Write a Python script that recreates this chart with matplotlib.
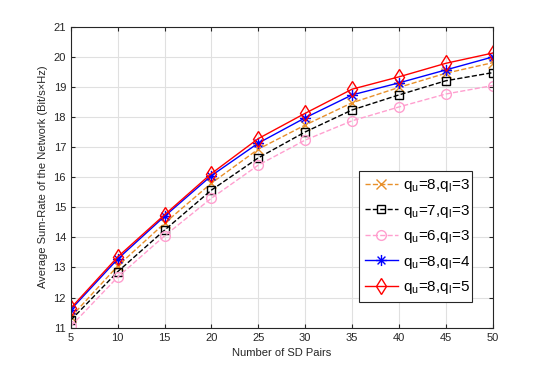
import numpy as np
import matplotlib
matplotlib.use('Agg')
from matplotlib import pyplot as plt
from matplotlib.path import Path

plt.rcParams['font.family'] = ['Liberation Sans', 'DejaVu Sans']
plt.rcParams['mathtext.fontset'] = 'custom'
plt.rcParams['mathtext.rm'] = 'Liberation Sans'

# data
sd_pairs = [5, 10, 15, 20, 25, 30, 35, 40, 45, 50]
q8_3 = [11.35, 13.05, 14.47, 15.80, 16.93, 17.73, 18.47, 18.98, 19.45, 19.80]
q7_3 = [11.25, 12.86, 14.24, 15.57, 16.64, 17.50, 18.23, 18.73, 19.20, 19.47]
q6_3 = [11.05, 12.68, 14.05, 15.30, 16.40, 17.23, 17.87, 18.33, 18.76, 19.04]
q8_4 = [11.60, 13.28, 14.70, 16.05, 17.13, 17.97, 18.73, 19.13, 19.56, 19.99]
q8_5 = [11.65, 13.35, 14.75, 16.12, 17.28, 18.12, 18.92, 19.33, 19.78, 20.12]

labels = [r'q$_\mathrm{u}$=8,q$_\mathrm{l}$=3',
          r'q$_\mathrm{u}$=7,q$_\mathrm{l}$=3',
          r'q$_\mathrm{u}$=6,q$_\mathrm{l}$=3',
          r'q$_\mathrm{u}$=8,q$_\mathrm{l}$=4',
          r'q$_\mathrm{u}$=8,q$_\mathrm{l}$=5']

# matlab style asterisk (plus + cross, stroked)
d = 0.7071
asterisk = Path([(-1, 0), (1, 0), (0, -1), (0, 1), (-d, -d), (d, d), (-d, d), (d, -d)],
                [Path.MOVETO, Path.LINETO] * 4)

fig = plt.figure(figsize=(5.45, 3.69), dpi=100)
ax = fig.add_axes([0.130, 0.112, 0.774, 0.816])

ax.plot(sd_pairs, q8_3, '--x', color='#E8902A', lw=1, ms=7, mew=1, label=labels[0])
ax.plot(sd_pairs, q7_3, '--s', color='black', lw=1, ms=6, mew=1, mfc='none', label=labels[1])
ax.plot(sd_pairs, q6_3, '--o', color='#FF9FCF', lw=1, ms=7, mew=1, mfc='none', label=labels[2])
ax.plot(sd_pairs, q8_4, '-', marker=asterisk, color='blue', lw=1, ms=8, mew=1, label=labels[3])
ax.plot(sd_pairs, q8_5, '-d', color='red', lw=1, ms=8, mew=1, mfc='none', label=labels[4])

ax.set_xlim(5, 50)
ax.set_ylim(11, 21)
ax.set_xticks(np.arange(5, 51, 5))
ax.set_yticks(np.arange(11, 22, 1))
ax.grid(True, color='#E0E0E0', lw=0.8)
ax.set_axisbelow(True)
ax.tick_params(direction='in', top=True, right=True, labelsize=8, colors='#262626', length=3)
for s in ax.spines.values():
    s.set_color('#262626')
    s.set_linewidth(0.8)

ax.set_xlabel('Number of SD Pairs', fontsize=8, color='#262626')
ax.set_ylabel('Average Sum-Rate of the Network (Bit/s\u00d7Hz)', fontsize=8, color='#262626')

leg = ax.legend(loc='lower left', bbox_to_anchor=(0.682, 0.085, 0.27, 0.465), mode='expand',
                fontsize=11, fancybox=False, edgecolor='#262626', framealpha=1,
                handlelength=2.2, handletextpad=0.3, borderpad=0.4, labelspacing=0.55,
                borderaxespad=0)
leg.get_frame().set_linewidth(0.8)

fig.savefig('out.png', dpi=100)
